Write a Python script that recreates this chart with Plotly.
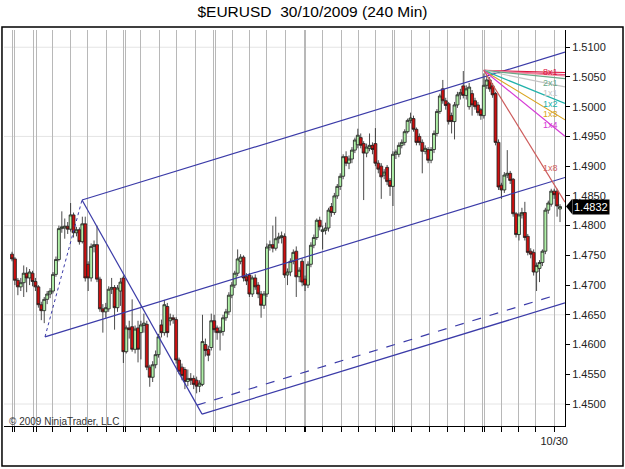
import plotly.graph_objects as go

# ---------------- data (4h bars, EURUSD) ----------------
bar_index = list(range(188))
opens = [1.4752,1.4744,1.4708,1.4697,1.4704,1.4720,1.4712,1.4720,1.4706,1.4697,
         1.4667,1.4657,1.4676,1.4685,1.4690,1.4718,1.4743,1.4795,1.4796,1.4799,
         1.4794,1.4818,1.4788,1.4793,1.4773,1.4803,1.4735,1.4712,1.4765,1.4768,
         1.4710,1.4660,1.4655,1.4660,1.4693,1.4696,1.4662,1.4690,1.4712,1.4588,
         1.4628,1.4630,1.4592,1.4628,1.4620,1.4632,1.4634,1.4562,1.4545,1.4566,
         1.4583,1.4633,1.4620,1.4664,1.4640,1.4645,1.4642,1.4574,1.4562,1.4558,
         1.4538,1.4543,1.4543,1.4540,1.4530,1.4533,1.4600,1.4592,1.4595,1.4640,
         1.4628,1.4620,1.4622,1.4645,1.4655,1.4683,1.4700,1.4720,1.4740,1.4747,
         1.4714,1.4717,1.4685,1.4712,1.4700,1.4685,1.4666,1.4685,1.4764,1.4768,
         1.4762,1.4778,1.4780,1.4782,1.4717,1.4722,1.4740,1.4757,1.4714,1.4740,
         1.4710,1.4700,1.4735,1.4767,1.4780,1.4809,1.4790,1.4792,1.4796,1.4832,
         1.4822,1.4850,1.4866,1.4883,1.4916,1.4905,1.4912,1.4927,1.4936,1.4948,
         1.4938,1.4922,1.4930,1.4935,1.4938,1.4905,1.4900,1.4885,1.4898,1.4876,
         1.4866,1.4920,1.4920,1.4935,1.4940,1.4958,1.4977,1.4980,1.4962,1.4950,
         1.4940,1.4925,1.4928,1.4910,1.4928,1.4955,1.4992,1.5030,1.5010,1.5005,
         1.4985,1.4975,1.5003,1.5020,1.5035,1.5019,1.5000,1.5022,1.5010,1.5003,
         1.4995,1.4985,1.5036,1.5045,1.5035,1.5022,1.4940,1.4868,1.4860,1.4885,
         1.4888,1.4878,1.4820,1.4785,1.4818,1.4822,1.4782,1.4757,1.4755,1.4722,
         1.4728,1.4738,1.4757,1.4826,1.4836,1.4858,1.4858,1.4828]
highs = [1.4756,1.4747,1.4712,1.4712,1.4733,1.4730,1.4727,1.4724,1.4712,1.4700,
         1.4672,1.4680,1.4690,1.4695,1.4722,1.4748,1.4800,1.4824,1.4812,1.4806,
         1.4838,1.4822,1.4798,1.4797,1.4815,1.4815,1.4740,1.4770,1.4775,1.4800,
         1.4714,1.4668,1.4670,1.4698,1.4712,1.4700,1.4700,1.4712,1.4716,1.4632,
         1.4640,1.4676,1.4632,1.4640,1.4640,1.4652,1.4640,1.4566,1.4572,1.4590,
         1.4618,1.4642,1.4675,1.4670,1.4652,1.4650,1.4646,1.4578,1.4568,1.4562,
         1.4558,1.4552,1.4548,1.4546,1.4540,1.4650,1.4610,1.4598,1.4652,1.4650,
         1.4632,1.4630,1.4650,1.4660,1.4688,1.4705,1.4724,1.4760,1.4752,1.4750,
         1.4720,1.4720,1.4716,1.4718,1.4705,1.4690,1.4690,1.4770,1.4775,1.4800,
         1.4815,1.4788,1.4790,1.4787,1.4728,1.4745,1.4760,1.4765,1.4730,1.4745,
         1.4716,1.4740,1.4772,1.4785,1.4812,1.4815,1.4800,1.4805,1.4830,1.4838,
         1.4855,1.4870,1.4888,1.4920,1.4925,1.4918,1.4932,1.4948,1.4963,1.4955,
         1.4942,1.4938,1.4955,1.4940,1.4964,1.4910,1.4905,1.4895,1.4902,1.4880,
         1.4925,1.4928,1.4940,1.4945,1.4962,1.4980,1.4990,1.4985,1.4965,1.4955,
         1.4945,1.4935,1.4932,1.4932,1.4960,1.4996,1.5022,1.5045,1.5015,1.5008,
         1.4990,1.5008,1.5025,1.5030,1.5060,1.5036,1.5040,1.5028,1.5015,1.5008,
         1.4998,1.5056,1.5052,1.5050,1.5040,1.5025,1.4945,1.4872,1.4890,1.4927,
         1.4892,1.4880,1.4823,1.4822,1.4830,1.4840,1.4786,1.4762,1.4760,1.4738,
         1.4742,1.4760,1.4830,1.4842,1.4862,1.4862,1.4862,1.4836]
lows = [1.4740,1.4700,1.4683,1.4690,1.4680,1.4688,1.4700,1.4698,1.4690,1.4662,
        1.4641,1.4636,1.4668,1.4678,1.4686,1.4714,1.4740,1.4788,1.4778,1.4786,
        1.4790,1.4780,1.4782,1.4768,1.4770,1.4706,1.4690,1.4706,1.4755,1.4705,
        1.4655,1.4620,1.4645,1.4655,1.4685,1.4625,1.4655,1.4665,1.4569,1.4585,
        1.4610,1.4588,1.4585,1.4570,1.4575,1.4620,1.4557,1.4529,1.4537,1.4560,
        1.4578,1.4612,1.4615,1.4612,1.4632,1.4635,1.4568,1.4550,1.4540,1.4525,
        1.4530,1.4532,1.4525,1.4518,1.4520,1.4530,1.4580,1.4572,1.4590,1.4620,
        1.4608,1.4590,1.4615,1.4640,1.4650,1.4678,1.4695,1.4715,1.4735,1.4706,
        1.4700,1.4680,1.4680,1.4692,1.4678,1.4645,1.4660,1.4680,1.4758,1.4755,
        1.4758,1.4770,1.4770,1.4712,1.4700,1.4715,1.4735,1.4680,1.4705,1.4698,
        1.4690,1.4695,1.4730,1.4762,1.4776,1.4792,1.4760,1.4785,1.4790,1.4815,
        1.4818,1.4845,1.4860,1.4878,1.4900,1.4895,1.4905,1.4922,1.4930,1.4930,
        1.4843,1.4915,1.4925,1.4920,1.4900,1.4888,1.4845,1.4878,1.4868,1.4850,
        1.4833,1.4912,1.4915,1.4930,1.4935,1.4955,1.4972,1.4958,1.4935,1.4935,
        1.4888,1.4920,1.4905,1.4905,1.4922,1.4950,1.4988,1.5005,1.4995,1.4970,
        1.4955,1.4945,1.4998,1.5012,1.5014,1.5012,1.4995,1.4985,1.4995,1.4985,
        1.4978,1.4980,1.5030,1.5025,1.5015,1.4935,1.4860,1.4845,1.4855,1.4880,
        1.4870,1.4815,1.4780,1.4775,1.4812,1.4775,1.4750,1.4745,1.4716,1.4690,
        1.4705,1.4732,1.4752,1.4820,1.4832,1.4845,1.4815,1.4806]
closes = [1.4744,1.4708,1.4697,1.4704,1.4720,1.4712,1.4722,1.4706,1.4697,1.4667,
          1.4657,1.4676,1.4685,1.4690,1.4718,1.4743,1.4795,1.4798,1.4799,1.4794,
          1.4818,1.4788,1.4793,1.4773,1.4803,1.4712,1.4712,1.4765,1.4768,1.4710,
          1.4660,1.4655,1.4662,1.4693,1.4696,1.4662,1.4695,1.4705,1.4588,1.4628,
          1.4625,1.4592,1.4626,1.4592,1.4633,1.4636,1.4562,1.4545,1.4566,1.4583,
          1.4613,1.4620,1.4667,1.4620,1.4645,1.4642,1.4574,1.4555,1.4548,1.4538,
          1.4543,1.4540,1.4533,1.4530,1.4535,1.4605,1.4590,1.4582,1.4640,1.4625,
          1.4620,1.4623,1.4645,1.4655,1.4683,1.4700,1.4720,1.4744,1.4747,1.4712,
          1.4707,1.4685,1.4712,1.4697,1.4685,1.4666,1.4685,1.4764,1.4768,1.4762,
          1.4778,1.4781,1.4783,1.4717,1.4722,1.4740,1.4755,1.4714,1.4725,1.4705,
          1.4700,1.4735,1.4767,1.4780,1.4809,1.4798,1.4793,1.4796,1.4826,1.4822,
          1.4850,1.4866,1.4883,1.4916,1.4905,1.4912,1.4927,1.4944,1.4952,1.4935,
          1.4922,1.4932,1.4935,1.4928,1.4905,1.4895,1.4882,1.4890,1.4874,1.4866,
          1.4920,1.4924,1.4935,1.4940,1.4958,1.4977,1.4981,1.4962,1.4940,1.4940,
          1.4925,1.4930,1.4910,1.4928,1.4955,1.4992,1.5018,1.5010,1.5002,1.4975,
          1.4975,1.5003,1.5020,1.5024,1.5019,1.5030,1.5033,1.5003,1.5000,1.4990,
          1.4985,1.5036,1.5045,1.5030,1.5020,1.4940,1.4865,1.4860,1.4885,1.4888,
          1.4876,1.4820,1.4785,1.4818,1.4822,1.4780,1.4755,1.4752,1.4722,1.4733,
          1.4738,1.4757,1.4826,1.4838,1.4858,1.4852,1.4833,1.4832]

# session / day separators (bar-index positions) and the one dated label
day_lines = [0.0, 1.0, 7.5, 8.2, 13.65, 20.1, 25.9, 32.1, 37.9, 38.6, 44.0, 50.2,
             56.3, 62.5, 68.6, 69.3, 75.1, 81.2, 87.0, 93.2, 99.7, 100.3, 106.1,
             112.3, 118.4, 123.9, 129.7, 130.4, 136.2, 142.3, 148.5, 154.3, 160.4,
             161.1, 166.9, 173.0, 178.8, 185.0]
day_labels = [""] * 37 + ["10/30"]

price_ticks = [1.4500, 1.4550, 1.4600, 1.4650, 1.4700, 1.4750, 1.4800,
               1.4850, 1.4900, 1.4950, 1.5000, 1.5050, 1.5100]
price_grid = [1.4500, 1.4650, 1.4800, 1.4950, 1.5100]
last_price = 1.4832

# Andrews pitchfork pivots (bar index, price)
pivot_idx = [11.26, 23.89, 64.85]
pivot_price = [1.4613, 1.4843, 1.4483]

# Gann fan
gann_apex = (161.0, 1.5061)
gann_names = ["8x1", "4x1", "3x1", "2x1", "1x1", "1x2", "1x3", "1x4", "1x8"]
gann_pips_per_bar = [0.125, 0.25, 1 / 3, 0.5, 1, 2, 3, 4, 8]
gann_colors = ["#dc143c", "#e75480", "#f08aa0", "#6aa888", "#c4c4c4",
               "#20b2aa", "#daa520", "#d63ad6", "#cd5c5c"]

X_LO, X_HI = -2.73, 188.7
Y_LO, Y_HI = 1.4463, 1.5129

FONT = "Liberation Sans"
LINE_BLUE = "#3b3ba8"

fig = go.Figure()

fig.add_trace(go.Candlestick(
    x=bar_index, open=opens, high=highs, low=lows, close=closes,
    increasing=dict(fillcolor="#b0f0a8", line=dict(color="#1e1e1e", width=0.8)),
    decreasing=dict(fillcolor="#cc1010", line=dict(color="#1e1e1e", width=0.8)),
    whiskerwidth=0, showlegend=False, hoverinfo="skip"))

# ---- pitchfork ----
(ax, bx, cx) = pivot_idx
(ay, by, cy) = pivot_price
mx, my = (bx + cx) / 2, (by + cy) / 2
slope = (my - ay) / (mx - ax)

def ext(x0, y0):
    return [x0, X_HI], [y0, y0 + slope * (X_HI - x0)]

for x0, y0 in [(ax, ay), (bx, by), (cx, cy)]:
    xs, ys = ext(x0, y0)
    fig.add_trace(go.Scatter(x=xs, y=ys, mode="lines",
                             line=dict(color=LINE_BLUE, width=1.2),
                             showlegend=False, hoverinfo="skip"))
# B-C handle and A-B dashed handle
fig.add_trace(go.Scatter(x=[bx, cx], y=[by, cy], mode="lines",
                         line=dict(color=LINE_BLUE, width=1.2),
                         showlegend=False, hoverinfo="skip"))
fig.add_trace(go.Scatter(x=[ax, bx], y=[ay, by], mode="lines",
                         line=dict(color=LINE_BLUE, width=1, dash="dot"),
                         showlegend=False, hoverinfo="skip"))
# dashed parallel starting on the B-C handle
t = 0.958
dx0 = bx + t * (cx - bx)
dy0 = by + t * (cy - by)
dx1 = 185.3
fig.add_trace(go.Scatter(x=[dx0, dx1], y=[dy0, dy0 + slope * (dx1 - dx0)],
                         mode="lines",
                         line=dict(color=LINE_BLUE, width=1.2, dash="dash"),
                         showlegend=False, hoverinfo="skip"))

# ---- Gann fan ----
gx, gy = gann_apex
for name, ppb, col in zip(gann_names, gann_pips_per_bar, gann_colors):
    fig.add_trace(go.Scatter(x=[gx, X_HI], y=[gy, gy - ppb * 0.0001 * (X_HI - gx)],
                             mode="lines", line=dict(color=col, width=1.2),
                             showlegend=False, hoverinfo="skip"))

gann_label_pos = {"8x1": 1.50580, "2x1": 1.50403, "1x1": 1.50227, "1x2": 1.50050,
                  "1x3": 1.49874, "1x4": 1.49689, "1x8": 1.48966}
annotations = []
for name, col in zip(gann_names, gann_colors):
    if name in gann_label_pos:
        annotations.append(dict(x=183.6, y=gann_label_pos[name], xref="x", yref="y",
                                text=name, showarrow=False, borderpad=0,
                                font=dict(family=FONT, size=9, color=col)))

annotations.append(dict(xref="paper", yref="paper", x=0.0053, y=0.0126,
                        xanchor="left", yanchor="middle", showarrow=False,
                        text="© 2009 NinjaTrader, LLC",
                        font=dict(family=FONT, size=10, color="#333333")))
annotations.append(dict(xref="paper", yref="y", x=1.0125, y=last_price,
                        xanchor="left", yanchor="middle", showarrow=False,
                        text="%.4f" % last_price, bgcolor="#000000",
                        borderpad=1,
                        font=dict(family=FONT, size=11, color="#ffffff")))

shapes = []
for p in price_grid:
    shapes.append(dict(type="line", xref="paper", yref="y", x0=0, x1=1, y0=p, y1=p,
                       line=dict(color="#e4e4e4", width=1), layer="below"))
# arrow of price marker
shapes.append(dict(type="path", xref="paper", yref="y",
                   path="M 1.0018,%f L 1.0130,%f L 1.0130,%f Z" % (
                       last_price, last_price + 0.0013, last_price - 0.0013),
                   fillcolor="#000000", line=dict(width=0)))
# outer frame
shapes.append(dict(type="rect", xref="paper", yref="paper",
                   x0=-0.0036, x1=1.1034, y0=-0.101, y1=1.0076,
                   line=dict(color="#000000", width=1.5)))

fig.update_layout(
    width=625, height=469,
    margin=dict(l=4, r=60, t=30, b=43),
    paper_bgcolor="white", plot_bgcolor="white",
    boxgap=0.0, boxgroupgap=0.0,
    title=dict(text="$EURUSD\u00a0\u00a030/10/2009 (240 Min)", x=0.5, xanchor="center",
               y=1 - 12 / 469, yanchor="middle", yref="container",
               font=dict(family=FONT, size=15.5, color="#000000")),
    showlegend=False,
    annotations=annotations, shapes=shapes,
    xaxis=dict(range=[X_LO, X_HI], rangeslider=dict(visible=False),
               tickmode="array", tickvals=day_lines, ticktext=day_labels,
               ticks="outside", ticklen=5, tickcolor="#000000",
               showgrid=True, gridcolor="#b8b8b8", gridwidth=1,
               showline=True, linecolor="#000000", linewidth=1,
               zeroline=False, tickfont=dict(family=FONT, size=11, color="#222222")),
    yaxis=dict(range=[Y_LO, Y_HI], side="right",
               tickmode="array", tickvals=price_ticks,
               ticktext=["%.4f" % v for v in price_ticks],
               ticks="outside", ticklen=4, tickcolor="#000000",
               showgrid=False, showline=True, linecolor="#000000", linewidth=1,
               zeroline=False, tickfont=dict(family=FONT, size=11, color="#222222")),
)

fig.write_html("out.html")
